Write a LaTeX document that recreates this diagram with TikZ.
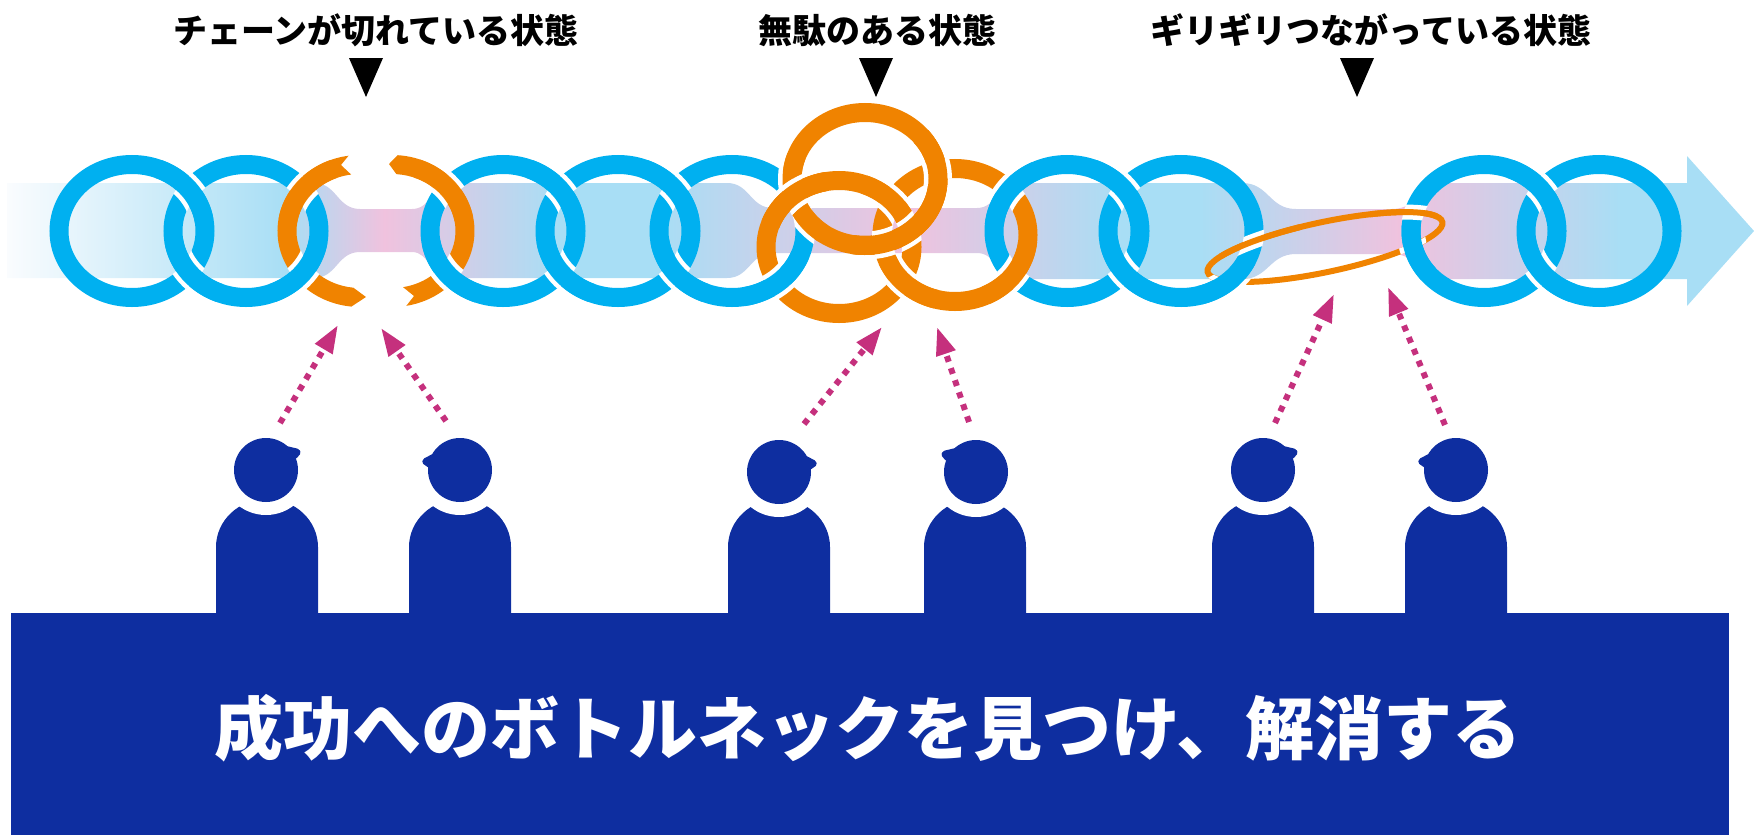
\documentclass[tikz,border=0pt]{standalone}
\usepackage{fontspec}
\newfontfamily\jp{Noto Sans CJK JP}
\usetikzlibrary{calc,arrows.meta}

\definecolor{linkblue}{RGB}{0,176,240}
\definecolor{linkorange}{RGB}{240,131,0}
\definecolor{navy}{RGB}{14,46,160}
\definecolor{pointer}{RGB}{197,48,125}
\definecolor{bandblue}{RGB}{168,222,245}
\definecolor{bandpink}{RGB}{240,194,222}
\definecolor{bandwhite}{RGB}{250,252,254}

% colour run of the flow band, left to right (25bp..75bp = left..right end)
\pgfdeclarehorizontalshading{bandshade}{100bp}{color(0bp)=(bandwhite); color(25bp)=(bandwhite);
  color(33bp)=(bandblue); color(35.8bp)=(bandpink); color(40.8bp)=(bandblue);
  color(43.7bp)=(bandblue); color(50.8bp)=(bandpink); color(56.9bp)=(bandblue);
  color(59.1bp)=(bandblue); color(64.9bp)=(bandpink); color(71.2bp)=(bandblue);
  color(100bp)=(bandblue)}

% a chain link: centre line 73 x 66.5, band 19 wide
\newcommand\linkring[2]{\draw[line width=19pt,#2] (#1) ellipse [x radius=73,y radius=66.5];}

% clip to the band of the link centred at #1 (outer and inner rim run opposite ways)
\newcommand\clipband[1]{%
  \clip ($(#1)+(0:83 and 76.5)$) arc[start angle=0,end angle=360,x radius=83,y radius=76.5] -- cycle
        ($(#1)+(0:63 and 56.5)$) arc[start angle=360,end angle=0,x radius=63,y radius=56.5] -- cycle;}

% part of link #1 (angles #2..#3, colour #4) laid over link #5, with a white gap
\newcommand\overarc[5]{%
  \begin{scope}
    \clipband{#5}
    \draw[white,line width=28pt] ($(#1)+(#2:73 and 66.5)$) arc[start angle=#2,end angle=#3,x radius=73,y radius=66.5];
  \end{scope}
  \draw[#4,line width=19pt] ($(#1)+(#2:73 and 66.5)$) arc[start angle=#2,end angle=#3,x radius=73,y radius=66.5];
}

% part of link #1 laid over the thin oval link
\newcommand\ringoveroval[3]{%
  \begin{scope}
    \clip[shift={(OV)},rotate=12] (0:123.5 and 28.5) arc[start angle=0,end angle=360,x radius=123.5,y radius=28.5] -- cycle
        (0:116.5 and 21.5) arc[start angle=360,end angle=0,x radius=116.5,y radius=21.5] -- cycle;
    \draw[white,line width=28pt] ($(#1)+(#2:73 and 66.5)$) arc[start angle=#2,end angle=#3,x radius=73,y radius=66.5];
  \end{scope}
  \draw[linkblue,line width=19pt] ($(#1)+(#2:73 and 66.5)$) arc[start angle=#2,end angle=#3,x radius=73,y radius=66.5];
}

% part of the oval link laid over link #3
\newcommand\ovalover[3]{%
  \begin{scope}
    \clipband{#3}
    \draw[white,line width=15pt,shift={(OV)},rotate=12] (#1:120 and 25) arc[start angle=#1,end angle=#2,x radius=120,y radius=25];
  \end{scope}
  \draw[linkorange,line width=6pt,shift={(OV)},rotate=12] (#1:120 and 25) arc[start angle=#1,end angle=#2,x radius=120,y radius=25];
}

% a person: head centre (#1,#2), body centre x #3
\newcommand\person[3]{%
  \fill[navy] (#3-51,640) -- (#3-51,547) arc[start angle=180,end angle=360,x radius=51,y radius=48] -- (#3+51,640) -- cycle;
  \fill[white] (#1,#2) circle[radius=45];
  \fill[navy] (#1,#2) circle[radius=32];
}
% cap peaks: #3 = 1 faces right, -1 faces left
\newcommand\peakflat[3]{\fill[navy,rounded corners=1.5pt] (#1-9*#3,#2-31) -- (#1+33*#3,#2-21) -- (#1+35*#3,#2-17) -- (#1+30*#3,#2-11) -- (#1+16*#3,#2-8) -- cycle;}
\newcommand\peaksteep[3]{\fill[navy,rounded corners=1.5pt] (#1-3*#3,#2-32) -- (#1+37*#3,#2-11) -- (#1+38*#3,#2-7) -- (#1+31*#3,#2-2) -- (#1+10*#3,#2-5) -- cycle;}

\begin{document}
\begin{tikzpicture}[x=1pt,y=-1pt,
  title/.style={font=\jp\bfseries\fontsize{34}{40}\selectfont,inner sep=0pt},
  pointerarrow/.style={pointer,line width=6pt,dash pattern=on 6pt off 6.7pt,-{Triangle[length=28pt,width=19pt]}}]
\useasboundingbox (0,0) rectangle (1754,835);

% link centres
\coordinate (B1) at (132,231);
\coordinate (B2) at (246,231);
\coordinate (L)  at (360,231);
\coordinate (R)  at (392,231);
\coordinate (B3) at (503,231);
\coordinate (B4) at (618,231);
\coordinate (B5) at (732,231);
\coordinate (O1) at (865,179);
\coordinate (O2) at (839,247);
\coordinate (O3) at (955,235);
\coordinate (B6) at (1067,231);
\coordinate (B7) at (1181,231);
\coordinate (OV) at (1325,247);
\coordinate (B8) at (1484,231);
\coordinate (B9) at (1599,231);

% flow band with arrow head
\shade[shading=bandshade] (7,183) -- (314,183) .. controls (337,183) and (337,209) .. (360,209)
  -- (412,209) .. controls (432,209) and (432,183) .. (450,183)
  -- (727,183) .. controls (750,183) and (750,208) .. (773,208)
  -- (977,208) .. controls (997,208) and (997,183) .. (1017,183)
  -- (1242,183) .. controls (1269,183) and (1269,209) .. (1296,209)
  -- (1392,209) .. controls (1419,209) and (1419,183) .. (1446,183)
  -- (1687,183) -- (1687,156) -- (1754,231) -- (1687,306) -- (1687,279)
  -- (1446,279) .. controls (1419,279) and (1419,254) .. (1392,254)
  -- (1296,254) .. controls (1269,254) and (1269,279) .. (1242,279)
  -- (1017,279) .. controls (997,279) and (997,253) .. (977,253)
  -- (773,253) .. controls (750,253) and (750,278) .. (727,278)
  -- (447,278) .. controls (430,278) and (430,252) .. (412,252)
  -- (360,252) .. controls (337,252) and (337,278) .. (314,278)
  -- (7,278) -- cycle;

% links
\foreach \c in {B1,B2,B3,B4,B5,B6,B7,B8,B9} {\linkring{\c}{linkblue}}
\foreach \c in {O2,O1,O3} {\linkring{\c}{linkorange}}

% the broken link, two halves with jagged ends
\fill[linkorange] ($(L)+(96:82.5 and 76)$) arc[start angle=96,end angle=262,x radius=82.5,y radius=76]
  -- (341,165) -- ($(L)+(262:63.5 and 57)$) arc[start angle=262,end angle=96,x radius=63.5,y radius=57]
  -- (366,297) -- cycle;
\fill[linkorange] ($(R)+(-86:82.5 and 76)$) arc[start angle=-86,end angle=80,x radius=82.5,y radius=76]
  -- (414,296) -- ($(R)+(80:63.5 and 57)$) arc[start angle=80,end angle=-86,x radius=63.5,y radius=57]
  -- (389,164) -- cycle;

% thin stretched link
\draw[linkorange,line width=6pt,shift={(OV)},rotate=12] (0,0) ellipse [x radius=120,y radius=25];

% crossings
\overarc{B1}{-69}{-9}{linkblue}{B2}
\overarc{B2}{111}{171}{linkblue}{B1}
\overarc{L}{189}{249}{linkorange}{B2}
\overarc{B2}{9}{69}{linkblue}{L}
\overarc{R}{-70}{-10}{linkorange}{B3}
\overarc{B3}{110}{170}{linkblue}{R}
\overarc{B3}{-69}{-9}{linkblue}{B4}
\overarc{B4}{111}{171}{linkblue}{B3}
\overarc{B4}{-69}{-9}{linkblue}{B5}
\overarc{B5}{111}{171}{linkblue}{B4}
\overarc{B5}{21}{81}{linkblue}{O2}
\overarc{O1}{125}{200}{linkorange}{B5}
\overarc{O2}{200}{260}{linkorange}{B5}
\overarc{O2}{200}{260}{linkorange}{O1}
\overarc{O2}{-70}{-25}{linkorange}{O3}
\overarc{O3}{105}{158}{linkorange}{O2}
\overarc{O1}{-40}{100}{linkorange}{O2}
\overarc{O1}{-40}{100}{linkorange}{O3}
\overarc{O3}{5}{65}{linkorange}{B6}
\overarc{B6}{185}{245}{linkblue}{O3}
\overarc{B6}{-69}{-9}{linkblue}{B7}
\overarc{B7}{111}{171}{linkblue}{B6}
\ringoveroval{B7}{25}{75}
\ringoveroval{B8}{140}{185}
\ovalover{-150}{-100}{B7}
\ovalover{-65}{-15}{B8}
\overarc{B8}{-69}{-9}{linkblue}{B9}
\overarc{B9}{111}{171}{linkblue}{B8}

% headings
\node[title] (t1) at (376,30) {チェーンが切れている状態};
\node[title] (t2) at (877,30) {無駄のある状態};
\node[title] (t3) at (1371,30) {ギリギリつながっている状態};
\fill (349,58) -- (383,58) -- (366,97) -- cycle;
\fill (859,58) -- (893,58) -- (876,97) -- cycle;
\fill (1340,58) -- (1374,58) -- (1357,97) -- cycle;

% people
\person{266}{470}{267}   \peakflat{266}{470}{1}
\person{460}{470}{460}   \peaksteep{460}{470}{-1}
\person{779}{472}{779}   \peaksteep{779}{472}{1}
\person{976}{472}{975}   \peakflat{976}{472}{-1}
\person{1263}{470}{1263} \peakflat{1263}{470}{1}
\person{1456}{470}{1456} \peaksteep{1456}{470}{-1}

% base
\fill[navy] (11,613) rectangle (1729,835);
\node[font=\jp\bfseries\fontsize{69}{80}\selectfont,text=white,inner sep=0pt] (goal) at (868,728)
  {成功へのボトルネックを見つけ、解消する};

% lines of sight
\coordinate (s1) at (280,423);  \coordinate (e1) at (338,325);
\coordinate (s2) at (446,421);  \coordinate (e2) at (381,328);
\coordinate (s3) at (804,424);  \coordinate (e3) at (882,327);
\coordinate (s4) at (969,422);  \coordinate (e4) at (937,327);
\coordinate (s5) at (1275,423); \coordinate (e5) at (1334,294);
\coordinate (s6) at (1445,425); \coordinate (e6) at (1388,287);
\foreach \i in {1,...,6} {\draw[pointerarrow] (s\i) -- (e\i);}
\end{tikzpicture}
\end{document}
